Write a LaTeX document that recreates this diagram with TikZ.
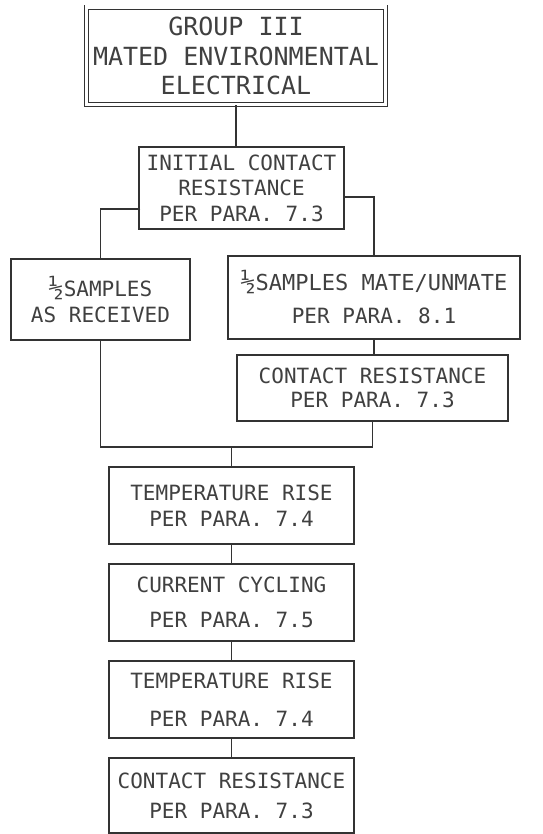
\documentclass[tikz,border=0pt]{standalone}
\usepackage{fontspec}
\setmonofont{DejaVu Sans Mono}
\usetikzlibrary{calc}
\tikzset{
  stage/.style={draw=black!80,line width=1.1pt,rectangle,inner sep=0pt,align=center,
    text=black!75,font=\ttfamily\fontsize{21}{25.5}\selectfont},
  wire/.style={draw=black!80,line width=1.1pt}
}
\begin{document}
\begin{tikzpicture}[x=1pt,y=-1pt]
    \useasboundingbox (0,0) rectangle (542,834);
    %% Title
    \node[stage,double,double distance=3.5pt,line width=0.9pt,minimum width=299pt,minimum height=97.5pt,
      font=\ttfamily\fontsize{25}{29.5}\selectfont] (group) at (236,56) {GROUP III\\MATED ENVIRONMENTAL\\ELECTRICAL};
    %% First measurement
    \node[stage,minimum width=205pt,minimum height=82pt] (init) at (241.5,188) {INITIAL CONTACT\\RESISTANCE\\PER PARA. 7.3};
    %% Two branches
    \node[stage,minimum width=179pt,minimum height=81pt] (asrec) at (100.5,299.5) {{\fontsize{25}{25}\selectfont ½}SAMPLES\\AS RECEIVED};
    \node[stage,minimum width=292pt,minimum height=83pt] (mate) at (374,297.5) {\fontsize{22}{25.5}\selectfont {\fontsize{25}{25}\selectfont ½}SAMPLES MATE/UNMATE\\[7.5pt]PER PARA. 8.1};
    \node[stage,minimum width=271pt,minimum height=66pt] (crmid) at (372.5,388) {CONTACT RESISTANCE\\[-1.5pt]PER PARA. 7.3};
    %% Common sequence
    \node[stage,minimum width=245pt,minimum height=77pt] (temp1) at (231.5,505.5) {TEMPERATURE RISE\\PER PARA. 7.4};
    \node[stage,minimum width=245pt,minimum height=77pt] (cycle) at (231.5,602.5) {CURRENT CYCLING\\[9.5pt]PER PARA. 7.5};
    \node[stage,minimum width=245pt,minimum height=77pt] (temp2) at (231.5,699.5) {TEMPERATURE RISE\\[12.5pt]PER PARA. 7.4};
    \node[stage,minimum width=245pt,minimum height=75pt] (crend) at (231.5,795.5) {CONTACT RESISTANCE\\[4.5pt]PER PARA. 7.3};
    %% Connections
    \coordinate (lsplit) at ($(init.west)+(2,21)$);
    \coordinate (rsplit) at ($(init.east)+(0,9)$);
    \coordinate (join) at (231.5,447);
    \path[wire] (group.south) -- (group.south |- init.north);
    \path[wire] (lsplit) -| (asrec.north);
    \path[wire] (rsplit) -| (mate.north);
    \path[wire] (mate.south) -- (mate.south |- crmid.north);
    \path[wire] (asrec.south) |- (join);
    \path[wire] (crmid.south) |- (join);
    \path[wire] (join) -- (temp1.north);
    \path[wire] (temp1) -- (cycle);
    \path[wire] (cycle) -- (temp2);
    \path[wire] (temp2) -- (crend);
\end{tikzpicture}
\end{document}
